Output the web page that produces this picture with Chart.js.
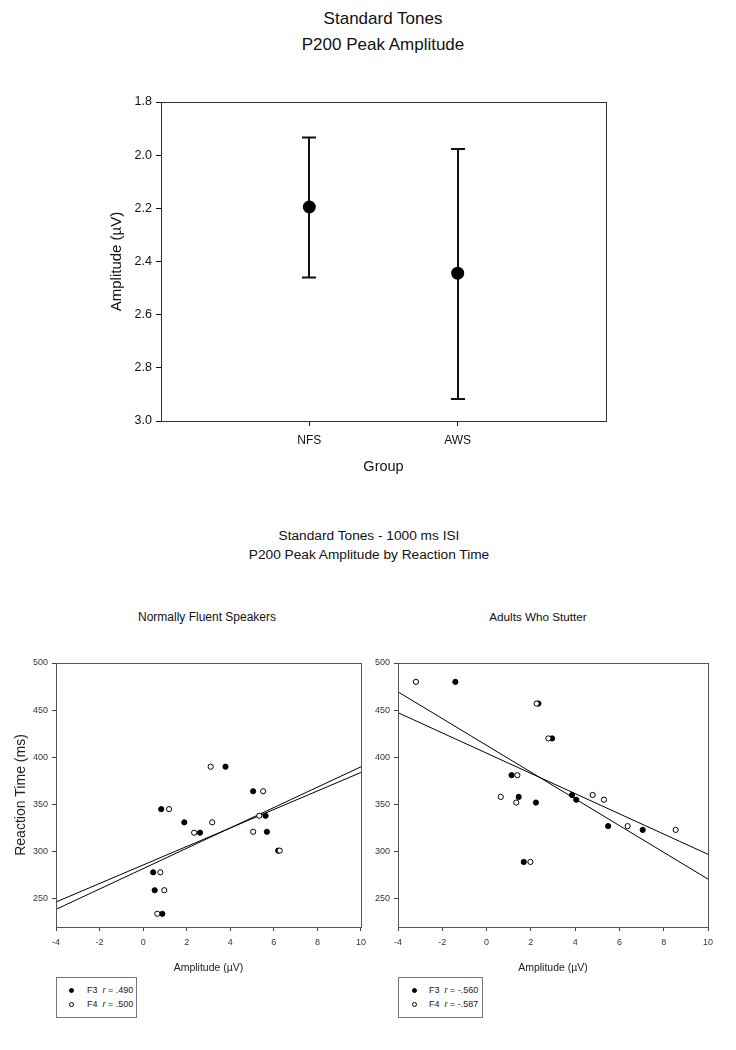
<!DOCTYPE html>
<html>
<head>
<meta charset="utf-8">
<script src="https://cdn.jsdelivr.net/npm/chart.js@4.4.1/dist/chart.umd.min.js"></script>
<style>
  body { margin: 0; background: #fff; font-family: "Liberation Sans", Arial, sans-serif; color: #111; }
  #page { position: relative; width: 736px; height: 1050px; overflow: hidden; }
  canvas, .txt, .legend { position: absolute; }
  .txt { text-align: center; white-space: nowrap; }
  .legend { border: 1px solid #777; box-sizing: border-box; font-size: 9px; color: #222; padding-top: 6px; }
  .legend .row { position: relative; height: 13.6px; line-height: 13.6px; }
  .legend .dot { position: absolute; top: 4.3px; width: 5px; height: 5px; border-radius: 50%; box-sizing: border-box; border: 1px solid #000; }
  .legend .lbl { position: absolute; left: 30px; }
</style>
</head>
<body>
<div id="page">
  <div class="txt" style="left:183px;width:400px;top:6px;font-size:17px;line-height:26px;">Standard Tones<br>P200 Peak Amplitude</div>
  <canvas id="topChart" width="736" height="500" style="left:0;top:0;"></canvas>

  <div class="txt" style="left:169px;width:400px;top:526px;font-size:13.7px;line-height:19px;">Standard Tones - 1000 ms ISI<br>P200 Peak Amplitude by Reaction Time</div>
  <div class="txt" style="left:107px;width:200px;top:609px;font-size:12px;line-height:16px;">Normally Fluent Speakers</div>
  <div class="txt" style="left:438px;width:200px;top:609px;font-size:11.7px;line-height:16px;">Adults Who Stutter</div>

  <canvas id="nfsChart" width="372" height="335" style="left:0;top:640px;"></canvas>
  <canvas id="awsChart" width="364" height="335" style="left:372px;top:640px;"></canvas>
  <div id="nfsLegend" class="legend" style="left:56px;top:977px;width:81px;height:41px;"></div>
  <div id="awsLegend" class="legend" style="left:398px;top:977px;width:85px;height:41px;"></div>
</div>

<script>
// top panel: group means with error bars (y axis reversed)
const groups = ['NFS', 'AWS']
const means = [2.195, 2.444]
const errUpper = [1.934, 1.977]
const errLower = [2.46, 2.917]
const ampTicksTop = [1.8, 2.0, 2.2, 2.4, 2.6, 2.8, 3.0]

// bottom panels: amplitude (uV) vs reaction time (ms)
const rtTicks = [250, 300, 350, 400, 450, 500]
const ampTicks = [-4, -2, 0, 2, 4, 6, 8, 10]
const seriesNames = ['F3', 'F4']

const nfsF3x = [0.83, 1.89, 2.61, 3.78, 5.05, 5.62, 5.68, 0.46, 0.53, 0.88, 6.2]
const nfsF3y = [345, 331, 320, 390, 364, 338, 321, 278, 259, 234, 301]
const nfsF4x = [1.19, 3.1, 3.17, 2.34, 5.51, 5.33, 5.05, 0.79, 0.97, 0.65, 6.27]
const nfsF4y = [345, 390, 331, 320, 364, 338, 321, 278, 259, 234, 301]
const nfsR = ['.490', '.500']

const awsF3x = [-1.41, 2.34, 2.96, 1.13, 1.45, 2.23, 1.68, 3.86, 4.05, 5.49, 7.05]
const awsF3y = [480, 457, 420, 381, 358, 352, 289, 360, 355, 327, 323]
const awsF4x = [-3.19, 2.26, 2.79, 1.39, 0.64, 1.34, 1.98, 4.79, 5.3, 6.37, 8.54]
const awsF4y = [480, 457, 420, 381, 358, 352, 289, 360, 355, 327, 323]
const awsR = ['-.560', '-.587']

// regression lines, y read at the two ends of the x range
const fitX = [-4, 10]
const nfsF3Fit = [246.5, 383.9]
const nfsF4Fit = [238.7, 389.9]
const awsF3Fit = [469.4, 270.8]
const awsF4Fit = [447.3, 297.1]

const font = '"Liberation Sans", Arial, sans-serif'

const frame = {
  id: 'frame',
  afterDraw(chart, args, opts) {
    const a = chart.chartArea
    const c = chart.ctx
    c.save()
    c.strokeStyle = opts.color || '#444'
    c.lineWidth = 1
    c.strokeRect(Math.round(a.left) + 0.5, Math.round(a.top) + 0.5, Math.round(a.right - a.left), Math.round(a.bottom - a.top))
    c.restore()
  }
}

const errorBars = {
  id: 'errorBars',
  beforeDatasetsDraw(chart) {
    const xs = chart.scales.x
    const ys = chart.scales.y
    const c = chart.ctx
    c.save()
    c.strokeStyle = '#111'
    c.lineWidth = 2
    groups.forEach((g, i) => {
      const px = Math.round(xs.getPixelForValue(i + 1))
      const p1 = ys.getPixelForValue(errUpper[i])
      const p2 = ys.getPixelForValue(errLower[i])
      c.beginPath()
      c.moveTo(px, p1); c.lineTo(px, p2)
      c.moveTo(px - 7, p1); c.lineTo(px + 7, p1)
      c.moveTo(px - 7, p2); c.lineTo(px + 7, p2)
      c.stroke()
    })
    c.restore()
  }
}

new Chart(document.getElementById('topChart'), {
  type: 'scatter',
  data: {
    datasets: [{
      data: groups.map((g, i) => ({ x: i + 1, y: means[i] })),
      pointRadius: 6.5,
      backgroundColor: '#000',
      borderColor: '#000',
      borderWidth: 0
    }]
  },
  options: {
    responsive: false,
    animation: false,
    layout: { padding: { left: 100, top: 102, right: 130, bottom: 0 } },
    plugins: { legend: { display: false }, tooltip: { enabled: false }, frame: { color: '#333' } },
    scales: {
      x: {
        type: 'linear', min: 0, max: 3,
        afterBuildTicks: s => { s.ticks = groups.map((g, i) => ({ value: i + 1 })) },
        afterFit: s => { s.height = 79 },
        border: { display: false },
        grid: { drawOnChartArea: false, drawTicks: true, tickLength: 5, color: '#111' },
        ticks: { callback: v => groups[v - 1], padding: 7, color: '#111', font: { family: font, size: 12 } },
        title: { display: true, text: 'Group', color: '#111', padding: { top: 0, bottom: 24 }, font: { family: font, size: 14.5 } }
      },
      y: {
        min: 1.8, max: 3.0, reverse: true,
        afterBuildTicks: s => { s.ticks = ampTicksTop.map(v => ({ value: v })) },
        afterFit: s => { s.width = 61 },
        border: { display: false },
        grid: { drawOnChartArea: false, drawTicks: true, tickLength: 5, color: '#111' },
        ticks: { callback: v => v.toFixed(1), padding: 4, color: '#111', font: { family: font, size: 12.5 } },
        title: { display: true, text: 'Amplitude (\u00b5V)', color: '#111', padding: { top: 8, bottom: 0 }, font: { family: font, size: 15 } }
      }
    }
  },
  plugins: [frame, errorBars]
})

function pts(xs, ys) {
  return xs.map((x, i) => ({ x: x, y: ys[i] }))
}

function makeScatter(id, f3x, f3y, f4x, f4y, f3fit, f4fit, yTitle, yWidth, padRight) {
  const lineStyle = { showLine: true, pointRadius: 0, borderColor: '#000', borderWidth: 1, order: 2 }
  new Chart(document.getElementById(id), {
    type: 'scatter',
    data: {
      datasets: [
        { label: seriesNames[1], data: pts(f4x, f4y), pointRadius: 2.6, backgroundColor: '#fff', borderColor: '#000', borderWidth: 1, order: 0 },
        { label: seriesNames[0], data: pts(f3x, f3y), pointRadius: 2.6, backgroundColor: '#000', borderColor: '#000', borderWidth: 1, order: 1 },
        Object.assign({ data: pts(fitX, f3fit) }, lineStyle),
        Object.assign({ data: pts(fitX, f4fit) }, lineStyle)
      ]
    },
    options: {
      responsive: false,
      animation: false,
      layout: { padding: { left: 0, top: 23, right: padRight, bottom: 0 } },
      plugins: { legend: { display: false }, tooltip: { enabled: false }, frame: { color: '#555' } },
      scales: {
        x: {
          type: 'linear', min: -4, max: 10,
          afterBuildTicks: s => { s.ticks = ampTicks.map(v => ({ value: v })) },
          afterFit: s => { s.height = 48 },
          border: { display: false },
          grid: { drawOnChartArea: false, drawTicks: true, tickLength: 4, color: '#444' },
          ticks: { padding: 6, color: '#333', font: { family: font, size: 9 } },
          title: { display: true, text: 'Amplitude (\u00b5V)', color: '#222', padding: { top: 0, bottom: 1 }, font: { family: font, size: 10.5 } }
        },
        y: {
          min: 220, max: 500,
          afterBuildTicks: s => { s.ticks = rtTicks.map(v => ({ value: v })) },
          afterFit: s => { s.width = yWidth },
          border: { display: false },
          grid: { drawOnChartArea: false, drawTicks: true, tickLength: 4, color: '#444' },
          ticks: { padding: 4, color: '#333', font: { family: font, size: 9 } },
          title: { display: yTitle, text: 'Reaction Time (ms)', color: '#222', padding: { top: 13, bottom: 0 }, font: { family: font, size: 14 } }
        }
      }
    },
    plugins: [frame]
  })
}

makeScatter('nfsChart', nfsF3x, nfsF3y, nfsF4x, nfsF4y, nfsF3Fit, nfsF4Fit, true, 56, 6)
makeScatter('awsChart', awsF3x, awsF3y, awsF4x, awsF4y, awsF3Fit, awsF4Fit, false, 26, 28)

function buildLegend(id, rs, dotLeft) {
  const box = document.getElementById(id)
  seriesNames.forEach((name, i) => {
    const row = document.createElement('div')
    row.className = 'row'
    const dot = document.createElement('span')
    dot.className = 'dot'
    dot.style.left = dotLeft + 'px'
    dot.style.background = i === 0 ? '#000' : '#fff'
    const lbl = document.createElement('span')
    lbl.className = 'lbl'
    lbl.innerHTML = name + '&nbsp; <i>r</i> = ' + rs[i]
    row.appendChild(dot)
    row.appendChild(lbl)
    box.appendChild(row)
  })
}

buildLegend('nfsLegend', nfsR, 12)
buildLegend('awsLegend', awsR, 13)
</script>
</body>
</html>
